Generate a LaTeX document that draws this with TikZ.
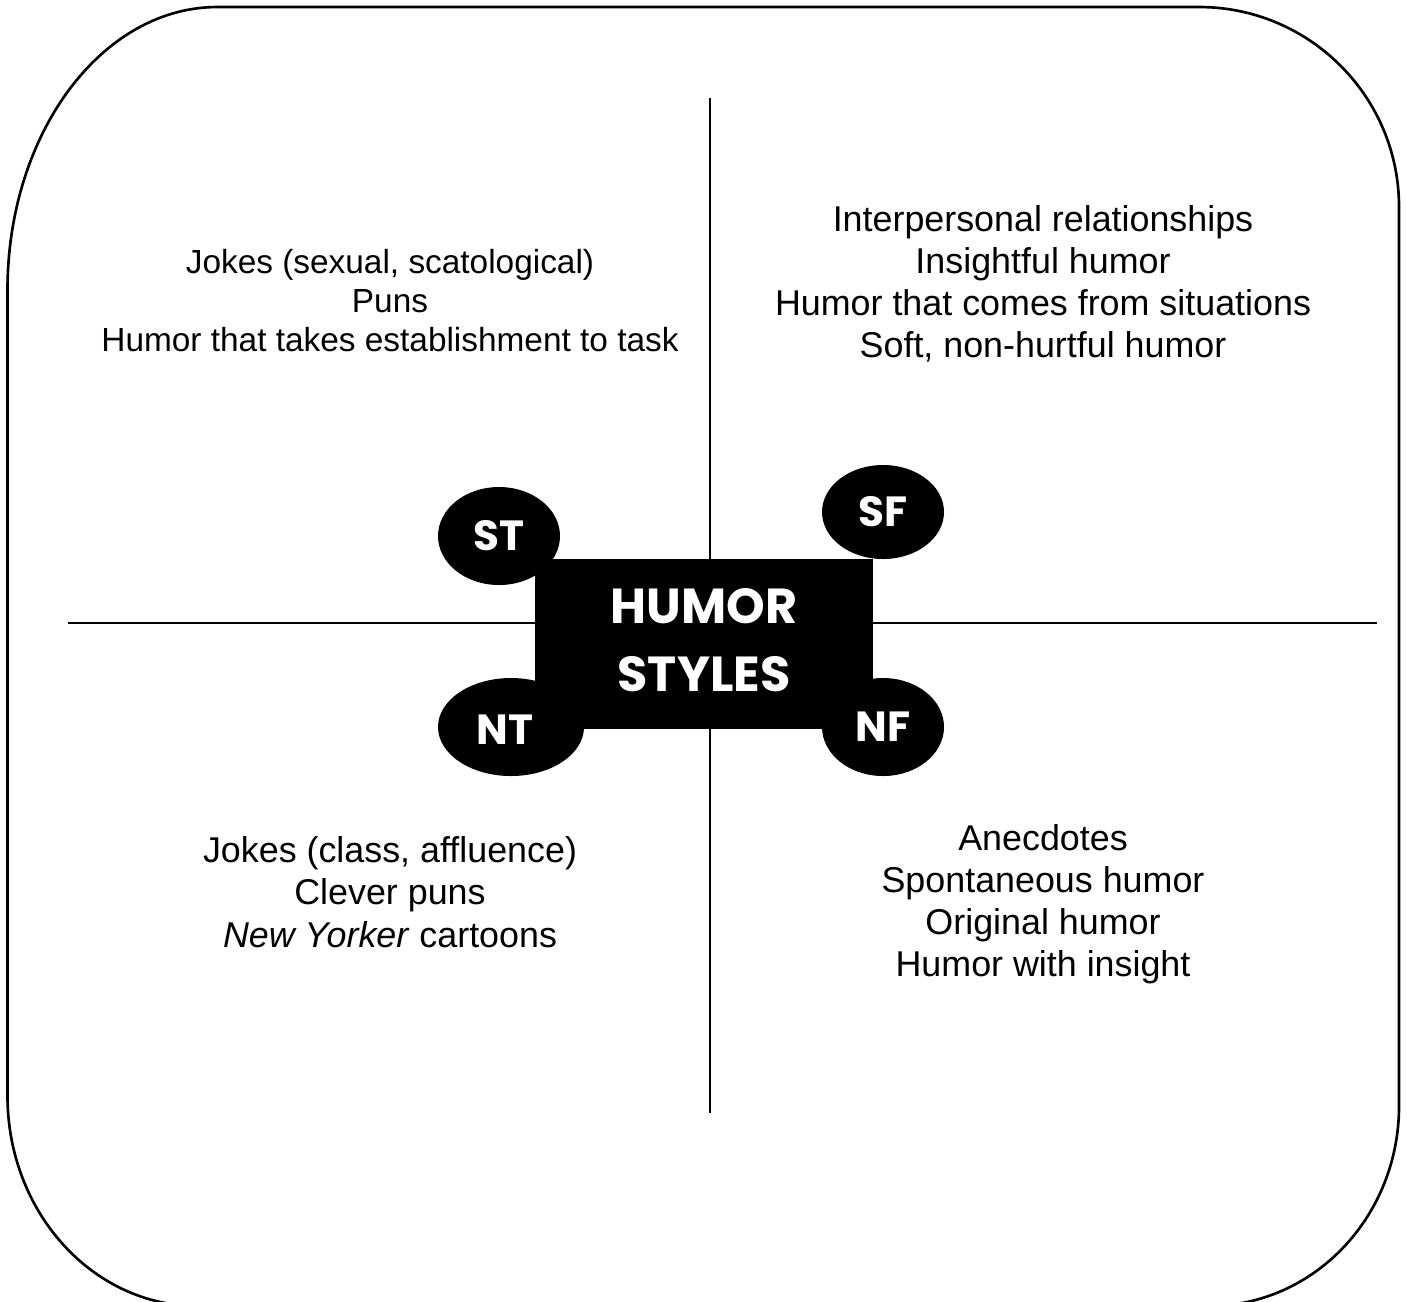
\documentclass[tikz,border=0pt]{standalone}
\usepackage{fontspec}
\setmainfont{Liberation Sans}
\newfontfamily\labelfont{Poppins}
\usetikzlibrary{positioning,shapes.geometric}

\begin{document}
\begin{tikzpicture}[
	frame/.style={draw, line width=0.75pt},
	axis line/.style={draw, line width=0.6pt},
	oval node/.style={ellipse, fill=black, text=white, inner sep=0pt, font=\labelfont\bfseries\fontsize{12}{12}\selectfont},
	list node/.style={align=center, font=\fontsize{10.2}{12}\selectfont}
	]
	\useasboundingbox (0,0) rectangle (14.07,-13.01);
	% Frame
	\draw[frame] (0.075,-2.90) arc[start angle=180, end angle=90, x radius=2.1, y radius=2.83]
		-- (11.99,-0.07) arc[start angle=90, end angle=0, radius=2.0]
		-- (13.99,-11.06) arc[start angle=0, end angle=-90, x radius=1.9, y radius=2.0]
		-- (1.975,-13.06) arc[start angle=270, end angle=180, x radius=1.9, y radius=2.1]
		-- cycle;
	% Axes
	\coordinate (vtop) at (7.10,-0.98);
	\coordinate (vbot) at (7.10,-11.13);
	\coordinate (hleft) at (0.68,-6.23);
	\coordinate (hright) at (13.77,-6.23);
	\draw[axis line] (vtop) -- (vbot);
	\draw[axis line] (hleft) -- (hright);
	% Center
	\node[fill=black, minimum width=3.38cm, minimum height=1.70cm, inner sep=0pt] (hs) at (7.04,-6.44) {};
	\node[text=white, align=center, font=\labelfont\bfseries\fontsize{14}{19.3}\selectfont] (hstext) at (7.04,-6.40) {HUMOR\\STYLES};
	\node[oval node, minimum width=1.22cm, minimum height=0.98cm] (st) at (4.99,-5.36) {ST};
	\node[oval node, minimum width=1.22cm, minimum height=0.94cm] (sf) at (8.83,-5.12) {SF};
	\node[oval node, minimum width=1.46cm, minimum height=0.98cm] (nt) at (5.11,-7.27) {};
	\node[text=white, font=\labelfont\bfseries\fontsize{12}{12}\selectfont] (nttext) at (5.05,-7.30) {NT};
	\node[oval node, minimum width=1.22cm, minimum height=0.98cm] (nf) at (8.83,-7.27) {NF};
	% Quadrants
	\node[list node, font=\fontsize{9.5}{11.1}\selectfont] (stlist) at (3.90,-3.01) {Jokes (sexual, scatological)\\Puns\\Humor that takes establishment to task};
	\node[list node] (sflist) at (10.43,-2.84) {Interpersonal relationships\\Insightful humor\\Humor that comes from situations\\Soft, non-hurtful humor};
	\node[list node] (ntlist) at (3.90,-8.92) {Jokes (class, affluence)\\Clever puns\\\textit{New Yorker} cartoons};
	\node[list node] (nflist) at (10.43,-9.04) {Anecdotes\\Spontaneous humor\\Original humor\\Humor with insight};
\end{tikzpicture}
\end{document}
